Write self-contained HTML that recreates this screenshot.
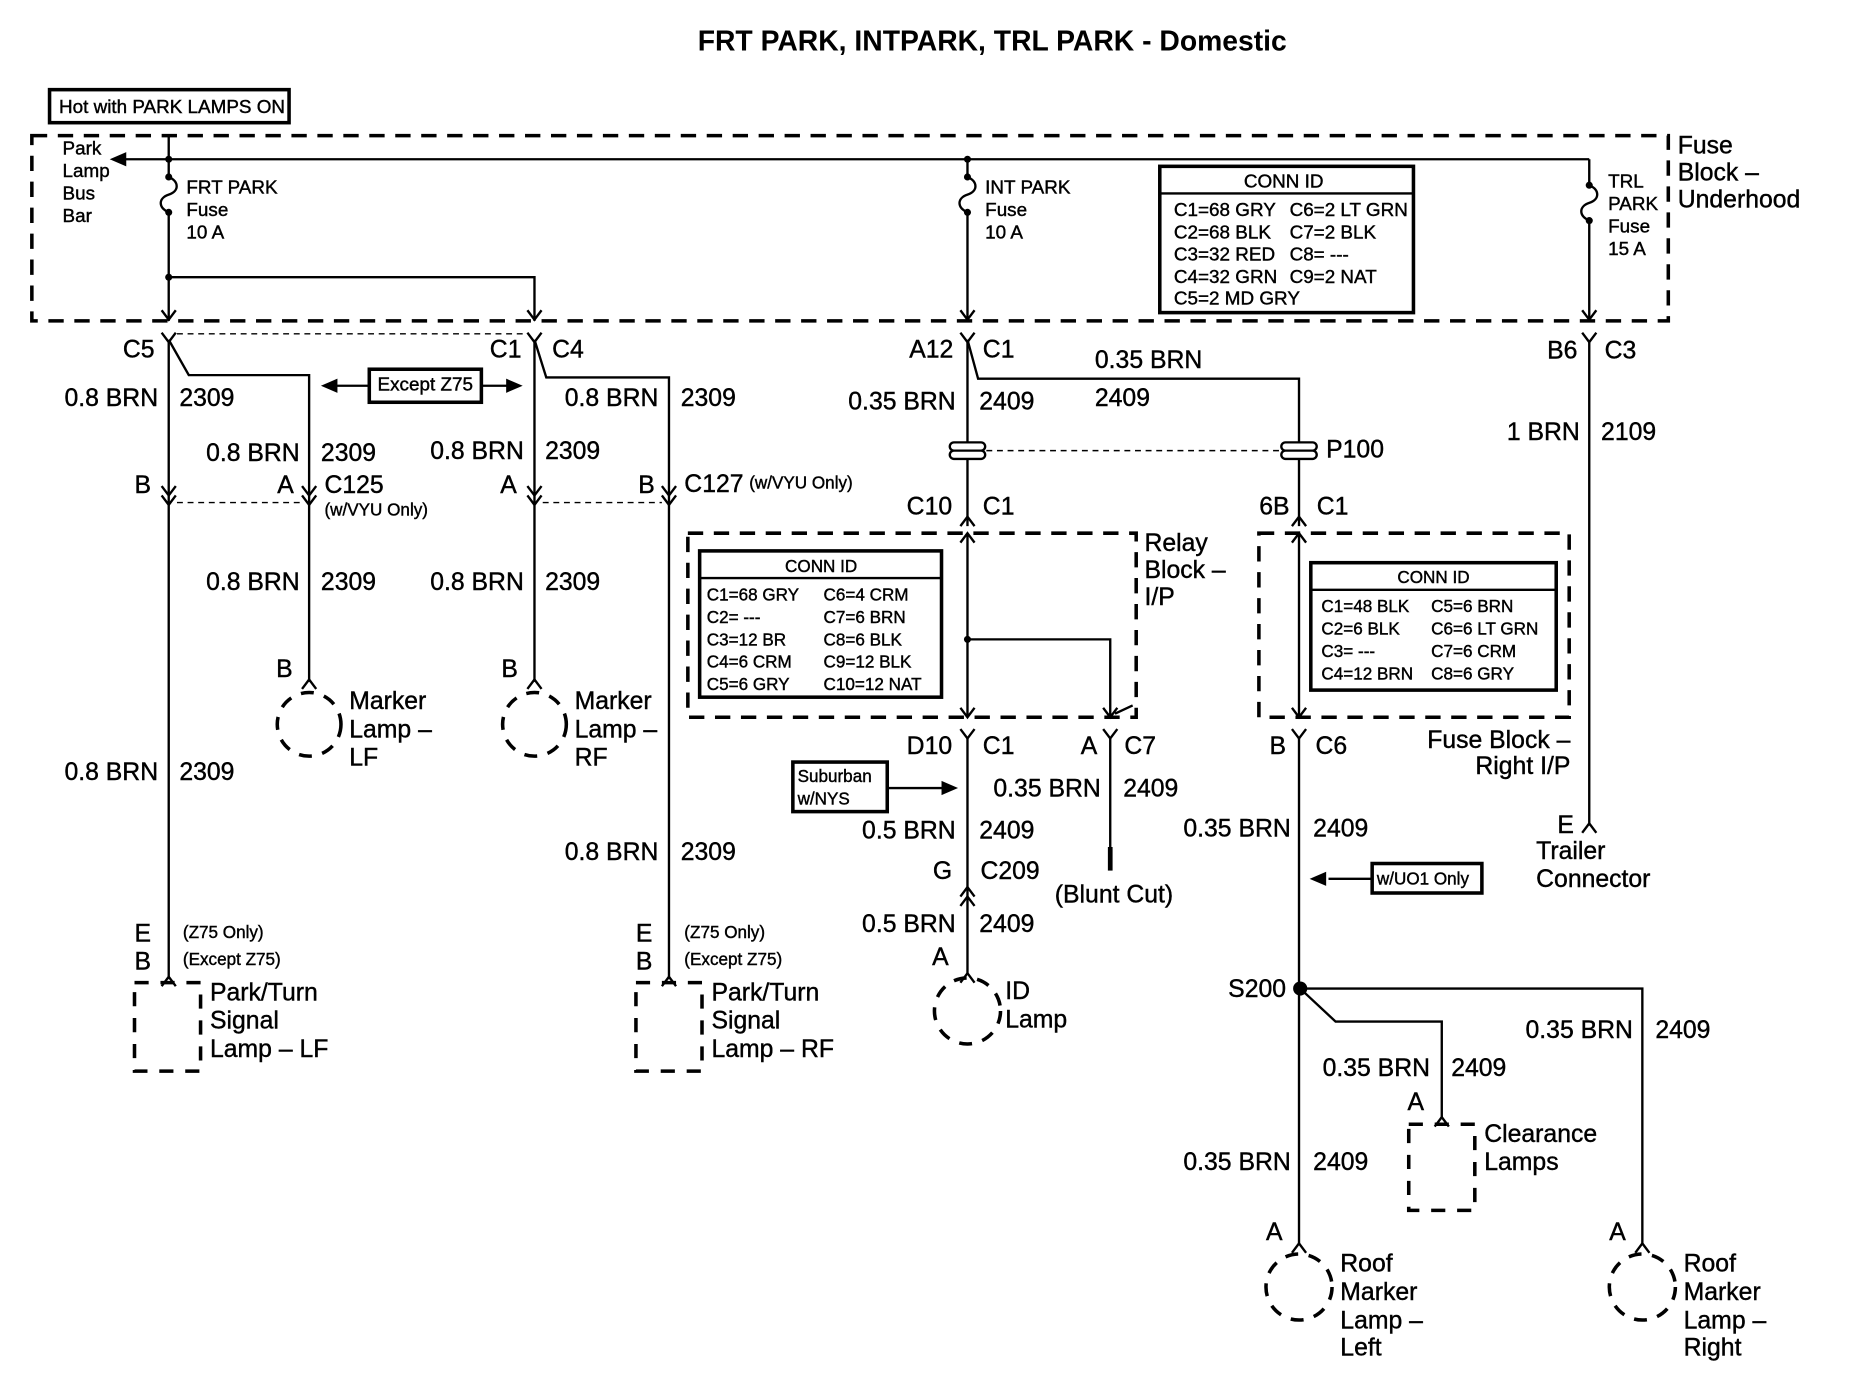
<!DOCTYPE html>
<html><head><meta charset="utf-8"><style>
html,body{margin:0;padding:0;background:#fff}
svg{display:block}
text{font-family:"Liberation Sans",Arial,sans-serif;fill:#000;stroke:#000;stroke-width:0.35}
.l{font-size:21px}
.s{font-size:16px}
.xs{font-size:14.5px}
.r{text-anchor:end}
.m{text-anchor:middle}
</style></head><body>
<svg width="1850" height="1392" viewBox="0 0 1568 1180" preserveAspectRatio="none" xmlns="http://www.w3.org/2000/svg">
<g fill="none" stroke="#000" stroke-width="2">
<rect x="27" y="115" width="1387" height="157" stroke-width="3" stroke-dasharray="13 9"/>
<rect x="42" y="76" width="203" height="28" stroke-width="3"/>
<line x1="97" y1="135" x2="1347" y2="135"/>
<path d="M143 115 V150 c9 4 9 12 0 15 c-9 3 -9 11 0 15 V272"/>
<path d="M820 135 V150 c9 4 9 12 0 15 c-9 3 -9 11 0 15 V272"/>
<path d="M1347 135 V157 c9 4 9 12 0 15 c-9 3 -9 11 0 15 V272"/>
<path d="M143 235 H453 V272"/>
<rect x="983" y="141" width="215" height="124" stroke-width="3"/>
<line x1="983" y1="164" x2="1198" y2="164"/>
<path d="M137 263 L143 271 L149 263 M447 263 L453 271 L459 263 M814 263 L820 271 L826 263 M1341 263 L1347 271 L1353 263"/>
<path d="M137 282 L143 290 L149 282 M447 282 L453 290 L459 282 M814 282 L820 290 L826 282 M1341 282 L1347 290 L1353 282"/>
<line x1="150" y1="283" x2="447" y2="283" stroke-width="1.2" stroke-dasharray="5 4"/>
<path d="M143 290 V830"/>
<path d="M143 288 L160 318 H262 V578"/>
<path d="M453 290 V578"/>
<path d="M453 288 L463 320 H567 V830"/>
<rect x="313" y="313" width="95" height="28" stroke-width="3"/>
<path d="M313 327 H282 M408 327 H433"/>
<path d="M137 412 L143 420 L149 412 M137 420 L143 428 L149 420 M256 412 L262 420 L268 412 M256 420 L262 428 L268 420 M447 412 L453 420 L459 412 M447 420 L453 428 L459 420 M561 412 L567 420 L573 412 M561 420 L567 428 L573 420"/>
<line x1="150" y1="426" x2="256" y2="426" stroke-width="1.2" stroke-dasharray="5 4"/>
<line x1="460" y1="426" x2="561" y2="426" stroke-width="1.2" stroke-dasharray="5 4"/>
<path d="M256 584 L262 576 L268 584 M447 584 L453 576 L459 584"/>
<circle cx="262" cy="614" r="27" stroke-width="3" stroke-dasharray="11 9"/>
<circle cx="453" cy="614" r="27" stroke-width="3" stroke-dasharray="11 9"/>
<path d="M137 836 L143 828 L149 836 M561 836 L567 828 L573 836"/>
<rect x="114" y="833" width="56" height="75" stroke-width="3" stroke-dasharray="12 10"/>
<rect x="539" y="833" width="56" height="75" stroke-width="3" stroke-dasharray="12 10"/>
<path d="M820 290 V446"/>
<path d="M820 288 L829 321 H1101 V446"/>
<line x1="836" y1="382" x2="1088" y2="382" stroke-width="1.2" stroke-dasharray="5 4"/>
<path d="M814 446 L820 438 L826 446 M1095 446 L1101 438 L1107 446"/>
<rect x="583" y="452" width="380" height="156" stroke-width="3" stroke-dasharray="13 9"/>
<rect x="593" y="467" width="205" height="124" stroke-width="3"/>
<line x1="593" y1="490" x2="798" y2="490"/>
<path d="M820 452 V608 M814 460 L820 452 L826 460 M814 600 L820 608 L826 600"/>
<path d="M820 542 H941 V608 M935 600 L941 608 L947 600 M945 605 L960 598"/>
<path d="M814 618 L820 626 L826 618 M935 618 L941 626 L947 618 M1095 618 L1101 626 L1107 618"/>
<path d="M820 626 V825"/>
<line x1="941" y1="626" x2="941" y2="728"/>
<line x1="941" y1="718" x2="941" y2="738" stroke-width="4"/>
<rect x="672" y="646" width="80" height="42" stroke-width="3"/>
<line x1="752" y1="668" x2="800" y2="668"/>
<path d="M814 760 L820 752 L826 760 M814 768 L820 760 L826 768"/>
<path d="M814 833 L820 825 L826 833"/>
<circle cx="820" cy="857" r="28" stroke-width="3" stroke-dasharray="11 9"/>
<rect x="1067" y="452" width="263" height="156" stroke-width="3" stroke-dasharray="13 9"/>
<rect x="1111" y="477" width="208" height="108" stroke-width="3"/>
<line x1="1111" y1="500" x2="1319" y2="500"/>
<path d="M1101 452 V608 M1095 460 L1101 452 L1107 460 M1095 600 L1101 608 L1107 600"/>
<path d="M1101 626 V1055"/>
<rect x="1163" y="732" width="93" height="25" stroke-width="3"/>
<line x1="1163" y1="745" x2="1126" y2="745"/>
<path d="M1102 838 H1392 V1055"/>
<path d="M1102 838 L1132 866 H1222 V948"/>
<path d="M1216 955 L1222 947 L1228 955"/>
<rect x="1194" y="953" width="56" height="73" stroke-width="3" stroke-dasharray="12 10"/>
<path d="M1095 1062 L1101 1054 L1107 1062 M1386 1062 L1392 1054 L1398 1062"/>
<circle cx="1101" cy="1091" r="28" stroke-width="3" stroke-dasharray="11 9"/>
<circle cx="1392" cy="1091" r="28" stroke-width="3" stroke-dasharray="11 9"/>
<path d="M1347 290 V700 M1341 706 L1347 698 L1353 706"/>
</g>
<g fill="#000" stroke="none">
<polygon points="93,135 107,129 107,141"/>
<circle cx="143" cy="135" r="3"/><circle cx="143" cy="150" r="3"/><circle cx="143" cy="180" r="3"/><circle cx="143" cy="235" r="3"/>
<circle cx="820" cy="135" r="3"/><circle cx="820" cy="150" r="3"/><circle cx="820" cy="180" r="3"/>
<circle cx="1347" cy="157" r="3"/><circle cx="1347" cy="187" r="3"/>
<polygon points="272,327 286,321 286,333"/><polygon points="443,327 429,321 429,333"/>
<circle cx="820" cy="542" r="3"/>
<polygon points="812,668 798,662 798,674"/>
<polygon points="1110,745 1124,739 1124,751"/>
<circle cx="1102" cy="838" r="6"/>
</g>
<g fill="#fff" stroke="#000" stroke-width="2">
<rect x="805" y="375" width="30" height="7" rx="3.5"/><rect x="805" y="382" width="30" height="7" rx="3.5"/>
<rect x="1086" y="375" width="30" height="7" rx="3.5"/><rect x="1086" y="382" width="30" height="7" rx="3.5"/>
</g>

<text x="841" y="43" class="m" style="font-size:24px;font-weight:bold;stroke-width:0">FRT PARK, INTPARK, TRL PARK - Domestic</text>
<text x="50" y="96" class="s">Hot with PARK LAMPS ON</text>
<text class="s" x="53" y="131">Park</text><text class="s" x="53" y="150">Lamp</text><text class="s" x="53" y="169">Bus</text><text class="s" x="53" y="188">Bar</text>
<text class="s" x="158" y="164">FRT PARK</text><text class="s" x="158" y="183">Fuse</text><text class="s" x="158" y="202">10 A</text>
<text class="s" x="835" y="164">INT PARK</text><text class="s" x="835" y="183">Fuse</text><text class="s" x="835" y="202">10 A</text>
<text class="s" x="1363" y="159">TRL</text><text class="s" x="1363" y="178">PARK</text><text class="s" x="1363" y="197">Fuse</text><text class="s" x="1363" y="216">15 A</text>
<text class="l" x="1422" y="130">Fuse</text><text class="l" x="1422" y="153">Block –</text><text class="l" x="1422" y="176">Underhood</text>
<text class="s m" x="1088" y="159">CONN ID</text>
<text class="s" x="995" y="183">C1=68 GRY</text><text class="s" x="1093" y="183">C6=2 LT GRN</text>
<text class="s" x="995" y="202">C2=68 BLK</text><text class="s" x="1093" y="202">C7=2 BLK</text>
<text class="s" x="995" y="221">C3=32 RED</text><text class="s" x="1093" y="221">C8= ---</text>
<text class="s" x="995" y="240">C4=32 GRN</text><text class="s" x="1093" y="240">C9=2 NAT</text>
<text class="s" x="995" y="258">C5=2 MD GRY</text>

<text class="l r" x="131" y="303">C5</text>
<text class="l r" x="442" y="303">C1</text><text class="l" x="468" y="303">C4</text>
<text class="s" x="320" y="331">Except Z75</text>
<text class="l r" x="134" y="344">0.8 BRN</text><text class="l" x="152" y="344">2309</text>
<text class="l r" x="558" y="344">0.8 BRN</text><text class="l" x="577" y="344">2309</text>
<text class="l r" x="254" y="391">0.8 BRN</text><text class="l" x="272" y="391">2309</text>
<text class="l r" x="444" y="389">0.8 BRN</text><text class="l" x="462" y="389">2309</text>
<text class="l" x="114" y="418">B</text><text class="l" x="235" y="418">A</text><text class="l" x="275" y="418">C125</text>
<text class="xs" x="275" y="437">(w/VYU Only)</text>
<text class="l" x="424" y="418">A</text><text class="l" x="541" y="418">B</text><text class="l" x="580" y="417">C127</text>
<text class="xs" x="635" y="414">(w/VYU Only)</text>
<text class="l r" x="254" y="500">0.8 BRN</text><text class="l" x="272" y="500">2309</text>
<text class="l r" x="444" y="500">0.8 BRN</text><text class="l" x="462" y="500">2309</text>
<text class="l" x="234" y="574">B</text><text class="l" x="425" y="574">B</text>
<text class="l" x="296" y="601">Marker</text><text class="l" x="296" y="625">Lamp –</text><text class="l" x="296" y="649">LF</text>
<text class="l" x="487" y="601">Marker</text><text class="l" x="487" y="625">Lamp –</text><text class="l" x="487" y="649">RF</text>
<text class="l r" x="134" y="661">0.8 BRN</text><text class="l" x="152" y="661">2309</text>
<text class="l r" x="558" y="729">0.8 BRN</text><text class="l" x="577" y="729">2309</text>
<text class="l" x="114" y="798">E</text><text class="l" x="114" y="822">B</text>
<text class="xs" x="155" y="795">(Z75 Only)</text><text class="xs" x="155" y="818">(Except Z75)</text>
<text class="l" x="539" y="798">E</text><text class="l" x="539" y="822">B</text>
<text class="xs" x="580" y="795">(Z75 Only)</text><text class="xs" x="580" y="818">(Except Z75)</text>
<text class="l" x="178" y="848">Park/Turn</text><text class="l" x="178" y="872">Signal</text><text class="l" x="178" y="896">Lamp – LF</text>
<text class="l" x="603" y="848">Park/Turn</text><text class="l" x="603" y="872">Signal</text><text class="l" x="603" y="896">Lamp – RF</text>

<text class="l r" x="808" y="303">A12</text><text class="l" x="833" y="303">C1</text>
<text class="l" x="928" y="312">0.35 BRN</text><text class="l" x="928" y="344">2409</text>
<text class="l r" x="810" y="347">0.35 BRN</text><text class="l" x="830" y="347">2409</text>
<text class="l" x="1124" y="388">P100</text>
<text class="l r" x="807" y="436">C10</text><text class="l" x="833" y="436">C1</text>
<text class="l r" x="1093" y="436">6B</text><text class="l" x="1116" y="436">C1</text>
<text class="l" x="970" y="467">Relay</text><text class="l" x="970" y="490">Block –</text><text class="l" x="970" y="513">I/P</text>
<text class="xs m" x="696" y="485">CONN ID</text>
<text class="xs" x="599" y="509">C1=68 GRY</text><text class="xs" x="698" y="509">C6=4 CRM</text>
<text class="xs" x="599" y="528">C2= ---</text><text class="xs" x="698" y="528">C7=6 BRN</text>
<text class="xs" x="599" y="547">C3=12 BR</text><text class="xs" x="698" y="547">C8=6 BLK</text>
<text class="xs" x="599" y="566">C4=6 CRM</text><text class="xs" x="698" y="566">C9=12 BLK</text>
<text class="xs" x="599" y="585">C5=6 GRY</text><text class="xs" x="698" y="585">C10=12 NAT</text>
<text class="xs m" x="1215" y="494">CONN ID</text>
<text class="xs" x="1120" y="519">C1=48 BLK</text><text class="xs" x="1213" y="519">C5=6 BRN</text>
<text class="xs" x="1120" y="538">C2=6 BLK</text><text class="xs" x="1213" y="538">C6=6 LT GRN</text>
<text class="xs" x="1120" y="557">C3= ---</text><text class="xs" x="1213" y="557">C7=6 CRM</text>
<text class="xs" x="1120" y="576">C4=12 BRN</text><text class="xs" x="1213" y="576">C8=6 GRY</text>
<text class="l r" x="807" y="639">D10</text><text class="l" x="833" y="639">C1</text>
<text class="l r" x="930" y="639">A</text><text class="l" x="953" y="639">C7</text>
<text class="l r" x="1090" y="639">B</text><text class="l" x="1115" y="639">C6</text>
<text class="l r" x="1331" y="634">Fuse Block –</text><text class="l r" x="1331" y="656">Right I/P</text>
<text class="xs" x="676" y="663">Suburban</text><text class="xs" x="676" y="682">w/NYS</text>
<text class="l r" x="933" y="675">0.35 BRN</text><text class="l" x="952" y="675">2409</text>
<text class="l r" x="810" y="711">0.5 BRN</text><text class="l" x="830" y="711">2409</text>
<text class="l r" x="1094" y="709">0.35 BRN</text><text class="l" x="1113" y="709">2409</text>
<text class="xs" x="1167" y="750">w/UO1 Only</text>
<text class="l r" x="807" y="745">G</text><text class="l" x="831" y="745">C209</text>
<text class="l" x="894" y="765">(Blunt Cut)</text>
<text class="l r" x="810" y="790">0.5 BRN</text><text class="l" x="830" y="790">2409</text>
<text class="l" x="790" y="818">A</text>
<text class="l" x="852" y="847">ID</text><text class="l" x="852" y="871">Lamp</text>

<text class="l r" x="1337" y="304">B6</text><text class="l" x="1360" y="304">C3</text>
<text class="l r" x="1339" y="373">1 BRN</text><text class="l" x="1357" y="373">2109</text>
<text class="l" x="1320" y="706">E</text>
<text class="l" x="1302" y="728">Trailer</text><text class="l" x="1302" y="752">Connector</text>

<text class="l r" x="1090" y="845">S200</text>
<text class="l r" x="1384" y="880">0.35 BRN</text><text class="l" x="1403" y="880">2409</text>
<text class="l r" x="1212" y="912">0.35 BRN</text><text class="l" x="1230" y="912">2409</text>
<text class="l" x="1193" y="941">A</text>
<text class="l" x="1258" y="968">Clearance</text><text class="l" x="1258" y="992">Lamps</text>
<text class="l r" x="1094" y="992">0.35 BRN</text><text class="l" x="1113" y="992">2409</text>
<text class="l" x="1073" y="1051">A</text><text class="l" x="1364" y="1051">A</text>
<text class="l" x="1136" y="1078">Roof</text><text class="l" x="1136" y="1102">Marker</text><text class="l" x="1136" y="1126">Lamp –</text><text class="l" x="1136" y="1149">Left</text>
<text class="l" x="1427" y="1078">Roof</text><text class="l" x="1427" y="1102">Marker</text><text class="l" x="1427" y="1126">Lamp –</text><text class="l" x="1427" y="1149">Right</text>
</svg>
</body></html>
